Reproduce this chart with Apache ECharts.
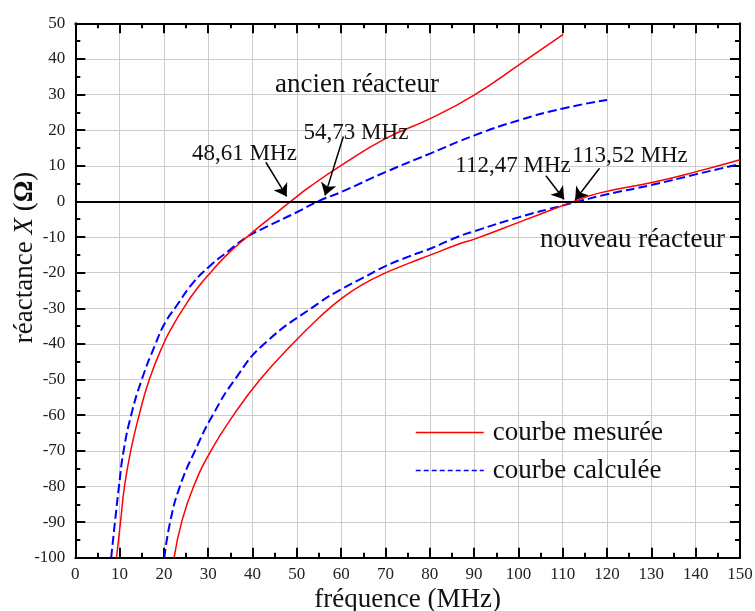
<!DOCTYPE html>
<html>
<head>
<meta charset="utf-8">
<script src="https://cdn.jsdelivr.net/npm/echarts@6/dist/echarts.min.js"></script>
<style>html,body{margin:0;padding:0;background:#fff}#c{width:755px;height:611px}</style>
</head>
<body>
<div id="c"></div>
<script>
// ---- data ----
const ancienMesureX = [9.3, 10.2, 11.1, 12.5, 14.4, 16.7, 19.9, 22.1, 24.4, 27.4, 30.5, 34.2, 38.7, 44.0, 48.61, 53, 60.1, 70.1, 80.2, 90.2, 100.2, 110.1];
const ancienMesureY = [-100, -90, -80, -70, -60, -50, -40, -34.7, -30, -24.6, -20, -15, -10, -4.6, 0, 4.2, 10.2, 17.7, 23.3, 30, 38.4, 46.9];
const ancienCalculX = [8.1, 8.95, 9.85, 10.9, 12.6, 15.0, 18.1, 20.2, 22.9, 26.6, 30.2, 34.9, 38.7, 43.2, 50.2, 54.73, 60.1, 70.1, 80.2, 90.2, 100.2, 110.1, 120];
const ancienCalculY = [-100, -90, -80, -70, -60, -50, -40, -34.2, -29.2, -22.8, -18.3, -13.6, -10, -7.1, -2.9, 0, 2.7, 8.3, 13.5, 18.6, 22.8, 26.1, 28.5];
const nouveauMesureX = [22.3, 24.0, 26.7, 30.6, 35.7, 41.7, 49.0, 55.2, 60.1, 65.0, 70.1, 75.2, 80.2, 86.4, 90.2, 100.2, 110.1, 112.47, 118.4, 130.4, 140, 150];
const nouveauMesureY = [-100, -90, -80, -70, -60, -50, -40, -32.4, -27.2, -23.2, -20.0, -17.4, -15.0, -12.0, -10.5, -5.8, -1.1, 0, 2.4, 5.4, 8.3, 11.7];
const nouveauCalculX = [20.1, 21.4, 23.6, 27.0, 31.0, 36.0, 42.6, 55.2, 60.1, 65.0, 70.1, 75.2, 80.2, 86.4, 90.2, 100.2, 110.1, 113.52, 120, 130, 140, 150];
const nouveauCalculY = [-100, -90, -80, -70, -60, -50, -40, -28.3, -24.6, -21.4, -18.1, -15.5, -13.2, -9.9, -8.3, -4.4, -1.1, 0, 2.0, 4.6, 7.6, 10.5];
const legendNames = ['courbe mesurée', 'courbe calculée'];
const xAxisRange = [0, 150, 10];
const yAxisRange = [-100, 50, 10];
// annotation arrows: [x, y] in data units
const arrowFrom = [[43.0, 11.0], [60.5, 18.2], [106.2, 7.2], [118.3, 9.3]];
const arrowTo = [[47.7, 1.4], [56.35, 1.7], [110.3, 0.6], [112.8, 0.4]];
const annotTexts = ['ancien réacteur', '54,73 MHz', '48,61 MHz', '112,47 MHz', '113,52 MHz', 'nouveau réacteur'];

const FONT = 'Liberation Serif';
const zip = (xs, ys) => xs.map((x, i) => [x, ys[i]]);

const chart = echarts.init(document.getElementById('c'), null, {renderer: 'canvas'});

const axisCommon = {
  axisLine: {show: true, onZero: false, lineStyle: {color: '#000', width: 2}},
  axisTick: {show: true, inside: true, length: 10, lineStyle: {color: '#000', width: 2}},
  minorTick: {show: true, splitNumber: 2, length: 5, lineStyle: {color: '#000', width: 2}},
};

const lineCommon = {type: 'line', showSymbol: false, symbol: 'none', smooth: 0.5, clip: true};

const option = {
  animation: false,
  backgroundColor: '#fff',
  grid: {left: 75.3, right: 15, top: 23.3, bottom: 53.3, containLabel: false, outerBoundsMode: 'none'},
  legend: {
    orient: 'vertical', left: 415, top: 419, padding: 0, itemGap: 11,
    itemWidth: 68, itemHeight: 14,
    textStyle: {fontFamily: FONT, fontSize: 27, color: '#111', padding: [0, 0, 0, 4]},
    data: [
      {name: legendNames[0], itemStyle: {color: 'rgba(0,0,0,0)', borderWidth: 0}, lineStyle: {width: 1.5}},
      {name: legendNames[1], itemStyle: {color: 'rgba(0,0,0,0)', borderWidth: 0}, lineStyle: {width: 1.5, type: [5, 3]}}
    ]
  },
  xAxis: [
    Object.assign({}, axisCommon, {
      type: 'value', min: xAxisRange[0], max: xAxisRange[1], interval: xAxisRange[2], position: 'bottom',
      axisLabel: {fontFamily: FONT, fontSize: 17, color: '#222', margin: 8},
      splitLine: {show: true, lineStyle: {color: '#cccccc', width: 1}},
      name: 'fréquence (MHz)', nameLocation: 'middle', nameGap: 29, nameMoveOverlap: false,
      nameTextStyle: {fontFamily: FONT, fontSize: 27, color: '#111'}
    }),
    Object.assign({}, axisCommon, {
      type: 'value', min: xAxisRange[0], max: xAxisRange[1], interval: xAxisRange[2], position: 'top',
      axisLabel: {show: false}, splitLine: {show: false}
    })
  ],
  yAxis: [
    Object.assign({}, axisCommon, {
      type: 'value', min: yAxisRange[0], max: yAxisRange[1], interval: yAxisRange[2], position: 'left',
      axisLabel: {fontFamily: FONT, fontSize: 17, color: '#222', margin: 10},
      splitLine: {show: true, lineStyle: {color: '#cccccc', width: 1}},
      name: 'réactance {i|X} ({b|Ω})', nameLocation: 'middle', nameGap: 37, nameMoveOverlap: false,
      nameTextStyle: {fontFamily: FONT, fontSize: 27, color: '#111', padding: [0, 0, 0, 66],
        rich: {i: {fontFamily: FONT, fontSize: 27, fontStyle: 'italic', color: '#111'},
               b: {fontFamily: FONT, fontSize: 27, fontWeight: 'bold', color: '#111'}}}
    }),
    Object.assign({}, axisCommon, {
      type: 'value', min: yAxisRange[0], max: yAxisRange[1], interval: yAxisRange[2], position: 'right',
      axisLabel: {show: false}, splitLine: {show: false}
    })
  ],
  series: [
    Object.assign({}, lineCommon, {
      name: legendNames[0], data: zip(ancienMesureX, ancienMesureY), z: 3,
      lineStyle: {color: '#ff0000', width: 1.5}, itemStyle: {color: '#ff0000'},
      markLine: {
        silent: true, animation: false, symbol: ['none', 'arrow'], symbolSize: 12,
        label: {show: false},
        lineStyle: {color: '#000', width: 1.5, type: 'solid'},
        itemStyle: {color: '#000'},
        data: arrowFrom.map((f, i) => [{coord: f}, {coord: arrowTo[i]}])
      }
    }),
    Object.assign({}, lineCommon, {
      name: legendNames[1], data: zip(ancienCalculX, ancienCalculY), z: 2,
      lineStyle: {color: '#0000ff', width: 2, type: [9, 4]}, itemStyle: {color: '#0000ff'}
    }),
    Object.assign({}, lineCommon, {
      name: legendNames[0], data: zip(nouveauMesureX, nouveauMesureY), z: 3,
      lineStyle: {color: '#ff0000', width: 1.5}, itemStyle: {color: '#ff0000'},
      markLine: {
        silent: true, animation: false, symbol: ['none', 'none'],
        label: {show: false},
        lineStyle: {color: '#000', width: 2, type: 'solid'},
        data: [{yAxis: 0}]
      }
    }),
    Object.assign({}, lineCommon, {
      name: legendNames[1], data: zip(nouveauCalculX, nouveauCalculY), z: 2,
      lineStyle: {color: '#0000ff', width: 2, type: [9, 4]}, itemStyle: {color: '#0000ff'}
    })
  ],
  graphic: [
    {type: 'text', x: 357, y: 85, z: 10, style: {text: annotTexts[0], font: '27px "Liberation Serif"', fill: '#111', align: 'center', verticalAlign: 'middle'}},
    {type: 'text', x: 356, y: 133, z: 10, style: {text: annotTexts[1], font: '23px "Liberation Serif"', fill: '#111', align: 'center', verticalAlign: 'middle'}},
    {type: 'text', x: 244.5, y: 154, z: 10, style: {text: annotTexts[2], font: '23px "Liberation Serif"', fill: '#111', align: 'center', verticalAlign: 'middle'}},
    {type: 'text', x: 513, y: 166, z: 10, style: {text: annotTexts[3], font: '23px "Liberation Serif"', fill: '#111', align: 'center', verticalAlign: 'middle'}},
    {type: 'text', x: 630, y: 156, z: 10, style: {text: annotTexts[4], font: '23px "Liberation Serif"', fill: '#111', align: 'center', verticalAlign: 'middle'}},
    {type: 'text', x: 632.5, y: 240, z: 10, style: {text: annotTexts[5], font: '27px "Liberation Serif"', fill: '#111', align: 'center', verticalAlign: 'middle'}}
  ]
};
chart.setOption(option);
</script>
</body>
</html>
